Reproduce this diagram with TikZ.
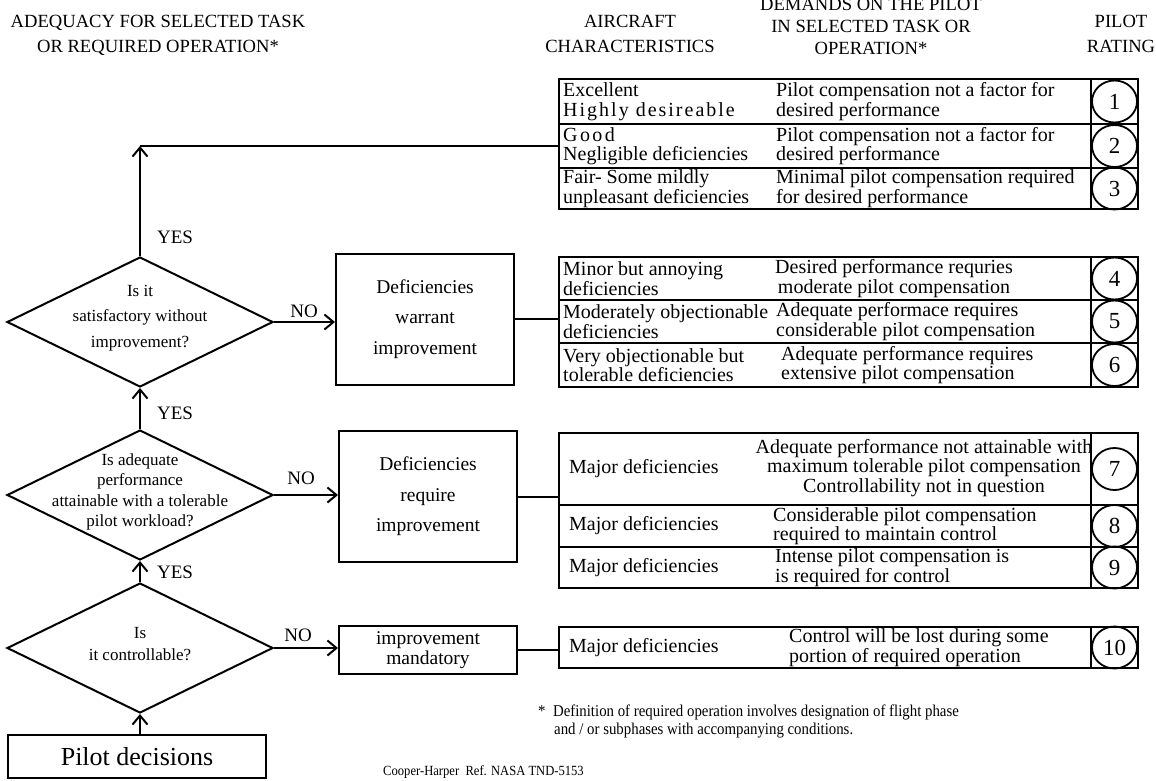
\documentclass[tikz,border=0pt]{standalone}
\usepackage{fontspec}
\setmainfont{Liberation Serif}
\usepackage{tikz}
\usetikzlibrary{shapes.geometric, arrows.meta, positioning, fit}
\tikzstyle{arrow} = [line width=2pt, -{Straight Barb[length=9pt,width=15pt,line width=2pt]}]
\tikzstyle{joinline} = [line width=2pt]
\tikzstyle{decision} = [diamond, draw=black, line width=2pt, minimum width=266pt, minimum height=130pt, inner sep=0pt]
\tikzstyle{question} = [align=center, inner sep=0pt, font=\fontsize{17}{20.3}\selectfont]
\tikzstyle{verdict} = [rectangle, draw=black, line width=2pt, minimum width=178pt, align=center, font=\fontsize{19.5}{30.5}\selectfont]
\tikzstyle{start} = [rectangle, draw=black, line width=2pt, minimum width=258pt, minimum height=43pt, font=\fontsize{26}{26}\selectfont]
\tikzstyle{rowcell} = [rectangle, draw=black, line width=2pt, inner sep=0pt]
\tikzstyle{rate} = [ellipse, draw=black, line width=1.8pt, minimum width=45pt, minimum height=42pt, inner sep=0pt, font=\fontsize{23}{23}\selectfont]
\tikzstyle{charac} = [anchor=west, align=left, inner sep=0pt, font=\fontsize{20}{19.5}\selectfont]
\tikzstyle{demand} = [anchor=west, align=left, inner sep=0pt, font=\fontsize{20}{19.5}\selectfont]
\tikzstyle{heading} = [align=center, inner sep=0pt, font=\fontsize{18.6}{25}\selectfont]
\tikzstyle{answer} = [inner sep=0pt, font=\fontsize{19}{19}\selectfont]
\tikzstyle{note} = [anchor=west, align=left, inner sep=0pt, font=\fontsize{16.5}{18}\selectfont\addfontfeature{FakeStretch=0.9}]

\begin{document}
\begin{tikzpicture}[x=1pt, y=-1pt]
\useasboundingbox (0,0) rectangle (1156,780);

% Column headings
\node (hadq) [heading] at (158,35) {ADEQUACY FOR SELECTED TASK\\OR REQUIRED OPERATION*};
\node (hair) [heading] at (630,34) {AIRCRAFT\\CHARACTERISTICS};
\node (hdem) [heading, font=\fontsize{18.6}{22}\selectfont] at (871,26) {DEMANDS ON THE PILOT\\IN SELECTED TASK OR\\OPERATION*};
\node (hrat) [heading] at (1121,34) {PILOT\\RATING};

% Pilot decisions
\node (sat) [decision] at (140,322) {};
\node (satq) [question, font=\fontsize{17}{25.5}\selectfont] at (140,318) {Is it\\satisfactory without\\improvement?};
\node (adq) [decision] at (140,495) {};
\node (adqq) [question] at (140,492) {Is adequate\\performance\\attainable with a tolerable\\pilot workload?};
\node (ctl) [decision] at (140,648) {};
\node (ctlq) [question, font=\fontsize{17}{22}\selectfont] at (140,644) {Is\\it controllable?};
\node (pilot) [start] at (137,756.5) {Pilot decisions};

% Deficiency boxes
\node (warr) [verdict, minimum height=131pt] at (425,319) {Deficiencies\\warrant\\improvement};
\node (reqr) [verdict, minimum height=131pt] at (428,496.5) {Deficiencies\\require\\improvement};
\node (mand) [verdict, minimum height=48pt, font=\fontsize{19.5}{20}\selectfont] at (428,650) {improvement\\mandatory};

% Rating table rows
\node (r1) [rowcell, fit={(559,79) (1138,124)}] {};
\node (r2) [rowcell, fit={(559,124) (1138,168)}] {};
\node (r3) [rowcell, fit={(559,168) (1138,209)}] {};
\node (r4) [rowcell, fit={(559,257) (1138,300)}] {};
\node (r5) [rowcell, fit={(559,300) (1138,343)}] {};
\node (r6) [rowcell, fit={(559,343) (1138,387)}] {};
\node (r7) [rowcell, fit={(559,433) (1138,505)}] {};
\node (r8) [rowcell, fit={(559,505) (1138,547)}] {};
\node (r9) [rowcell, fit={(559,547) (1138,588)}] {};
\node (r10) [rowcell, fit={(559,627) (1138,668)}] {};
\node (col1) [rowcell, fit={(1091,79) (1138,209)}] {};
\node (col2) [rowcell, fit={(1091,257) (1138,387)}] {};
\node (col3) [rowcell, fit={(1091,433) (1138,588)}] {};
\node (col4) [rowcell, fit={(1091,627) (1138,668)}] {};

% Aircraft characteristics
\node (c1) [charac] at (563,101.5) {Excellent\\{\addfontfeature{LetterSpace=10}Highly desireable}};
\node (c2) [charac] at (563,146) {{\addfontfeature{LetterSpace=12}Good}\\Negligible deficiencies};
\node (c3) [charac] at (563,188.5) {Fair- Some mildly\\unpleasant deficiencies};
\node (c4) [charac] at (563,278.5) {Minor but annoying\\deficiencies};
\node (c5) [charac] at (563,321.5) {Moderately objectionable\\deficiencies};
\node (c6) [charac] at (563,365) {Very objectionable but\\tolerable deficiencies};
\node (c7) [charac] at (569,469) {Major deficiencies};
\node (c8) [charac] at (569,526) {Major deficiencies};
\node (c9) [charac] at (569,567.5) {Major deficiencies};
\node (c10) [charac] at (569,647.5) {Major deficiencies};

% Demands on the pilot
\node (p1) [demand] at (776,101.5) {Pilot compensation not a factor for\\desired performance};
\node (p2) [demand] at (776,146) {Pilot compensation not a factor for\\desired performance};
\node (p3) [demand] at (776,188.5) {Minimal pilot compensation required\\for desired performance};
\node (p4) [demand, align=center] at (775,278.5) {Desired performance requries\\moderate pilot compensation};
\node (p5) [demand] at (776,321.5) {Adequate performace requires\\considerable pilot compensation};
\node (p6) [demand] at (781,365) {Adequate performance requires\\extensive pilot compensation};
\node (p7) [demand, anchor=center, align=center] at (924,468) {Adequate performance not attainable with\\maximum tolerable pilot compensation\\Controllability not in question};
\node (p8) [demand] at (773,526) {Considerable pilot compensation\\required to maintain control};
\node (p9) [demand] at (775,567.5) {Intense pilot compensation is\\is required for control};
\node (p10) [demand] at (789,647.5) {Control will be lost during some\\portion of required operation};

% Pilot ratings
\node (n1) [rate] at (1114.5,101.5) {1};
\node (n2) [rate] at (1114.5,146) {2};
\node (n3) [rate] at (1114.5,188.5) {3};
\node (n4) [rate] at (1114.5,278.5) {4};
\node (n5) [rate] at (1114.5,321.5) {5};
\node (n6) [rate] at (1114.5,365) {6};
\node (n7) [rate] at (1114.5,469) {7};
\node (n8) [rate] at (1114.5,526) {8};
\node (n9) [rate] at (1114.5,567.5) {9};
\node (n10) [rate] at (1114.5,647.5) {10};

% Answers
\node (yes1) [answer] at (175,237) {YES};
\node (yes2) [answer] at (175,413) {YES};
\node (yes3) [answer] at (175,572) {YES};
\node (no1) [answer] at (304,311) {NO};
\node (no2) [answer] at (301,478) {NO};
\node (no3) [answer] at (298,635) {NO};

% Connections
\coordinate (corner) at (sat.north |- r2.west);
\draw [arrow] (ctl.south |- pilot.north) -- (ctl.south);
\draw [arrow] (ctl.north) -- (adq.south);
\draw [arrow] (adq.north) -- (sat.south);
\draw [arrow] (sat.north) -- (corner);
\draw [joinline] (corner) -- (r2.west);
\draw [arrow] (sat.east) -- (sat.east -| warr.west);
\draw [arrow] (adq.east) -- (adq.east -| reqr.west);
\draw [arrow] (ctl.east) -- (ctl.east -| mand.west);
\draw [joinline] (warr.east) -- (warr.east -| r5.west);
\draw [joinline] (reqr.east) -- (reqr.east -| r7.west);
\draw [joinline] (mand.east) -- (mand.east -| r10.west);

% Notes
\node (fn) [note] at (538,721) {*\ \ Definition of required operation involves designation of flight phase\\\hspace*{16pt}and / or subphases with accompanying conditions.};
\node (src) [note, font=\fontsize{14}{14}\selectfont\addfontfeature{FakeStretch=0.9}] at (383,772) {Cooper-Harper\ \ Ref. NASA TND-5153};

\end{tikzpicture}
\end{document}
